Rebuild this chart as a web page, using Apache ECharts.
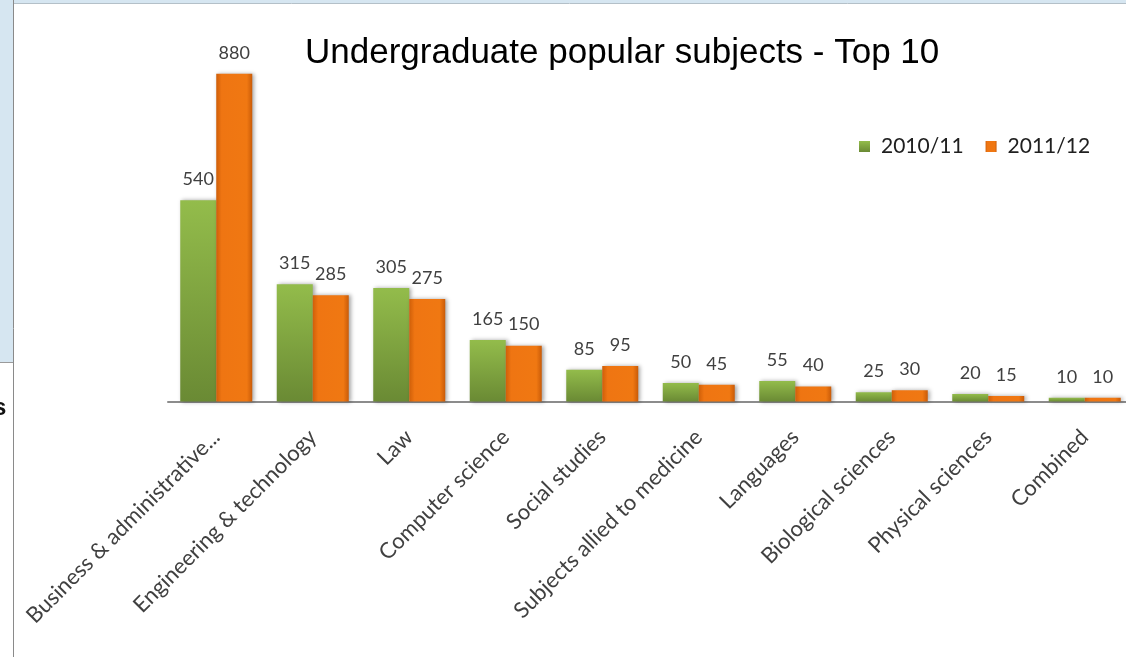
<!DOCTYPE html>
<html>
<head>
<meta charset="utf-8">
<title>Undergraduate popular subjects - Top 10</title>
<script src="https://cdn.jsdelivr.net/npm/echarts@6/dist/echarts.min.js"></script>
<style>
  html, body { margin: 0; padding: 0; background: #ffffff; }
  #chart { width: 1126px; height: 657px; }
</style>
</head>
<body>
<div id="chart"></div>
<script>
// Subjects, in ranking order
const categories = [
  'Business & administrative...',
  'Engineering & technology',
  'Law',
  'Computer science',
  'Social studies',
  'Subjects allied to medicine',
  'Languages',
  'Biological sciences',
  'Physical sciences',
  'Combined'
];
const seriesNames = ['2010/11', '2011/12'];
const values2010 = [540, 315, 305, 165, 85, 50, 55, 25, 20, 10];
const values2011 = [880, 285, 275, 150, 95, 45, 40, 30, 15, 10];

const LABEL_FONT = 'Lato, "Open Sans", sans-serif';

const greenFill = new echarts.graphic.LinearGradient(0, 0, 0, 1, [
  { offset: 0, color: '#93bc4b' },
  { offset: 1, color: '#6a8a34' }
]);
const orangeFill = new echarts.graphic.LinearGradient(0, 0, 1, 0, [
  { offset: 0, color: '#cf5f09' },
  { offset: 0.15, color: '#ef7512' },
  { offset: 0.85, color: '#f07812' },
  { offset: 1, color: '#c95b08' }
]);

function barSeries(name, data, fill, legendColor) {
  return {
    name: name,
    type: 'bar',
    data: data,
    barWidth: 36,
    barGap: '0%',
    color: legendColor,
    itemStyle: {
      color: fill,
      shadowBlur: 4,
      shadowOffsetX: 2,
      shadowOffsetY: 0,
      shadowColor: 'rgba(0,0,0,0.35)'
    },
    label: {
      show: true,
      position: 'top',
      distance: 12,
      fontFamily: LABEL_FONT,
      fontSize: 18,
      color: '#404040'
    },
    emphasis: { disabled: true }
  };
}

const chart = echarts.init(document.getElementById('chart'), null, { renderer: 'canvas' });

chart.setOption({
  animation: false,
  backgroundColor: '#ffffff',
  title: {
    text: 'Undergraduate popular subjects - Top 10',
    left: 305,
    top: 36,
    padding: 0,
    textStyle: {
      fontFamily: '"Liberation Sans", Arial, sans-serif',
      fontSize: 35,
      fontWeight: 'normal',
      color: '#000000'
    }
  },
  legend: {
    data: seriesNames,
    left: 859,
    top: 136,
    padding: 0,
    itemWidth: 11,
    itemHeight: 11,
    itemGap: 22,
    icon: 'rect',
    textStyle: {
      fontFamily: LABEL_FONT,
      fontSize: 21,
      color: '#202020',
      padding: [0, 0, 0, 6]
    }
  },
  grid: {
    left: 168,
    top: 29,
    width: 965,
    height: 372.5,
    containLabel: false,
    outerBoundsMode: 'none'
  },
  xAxis: {
    type: 'category',
    data: categories,
    axisLine: { show: true, lineStyle: { color: '#8c8c8c', width: 2 } },
    axisTick: { show: false },
    axisLabel: {
      interval: 0,
      rotate: 45,
      margin: 32,
      fontFamily: LABEL_FONT,
      fontSize: 22,
      color: '#404040',
      hideOverlap: false
    },
    splitLine: { show: false }
  },
  yAxis: {
    type: 'value',
    min: 0,
    max: 1000,
    show: false,
    splitLine: { show: false }
  },
  series: [
    barSeries(seriesNames[0], values2010, greenFill, '#7fa63e'),
    barSeries(seriesNames[1], values2011, orangeFill, '#ec7412')
  ],
  graphic: [
    // sheet strip along the top
    { type: 'rect', shape: { x: 0, y: 0, width: 1126, height: 3 }, style: { fill: '#d6e6f1' }, silent: true },
    { type: 'line', shape: { x1: 13, y1: 3.5, x2: 1126, y2: 3.5 }, style: { stroke: '#b4c0c8', lineWidth: 1 }, silent: true },
    // side panel on the left
    { type: 'rect', shape: { x: 0, y: 0, width: 13, height: 362 }, style: { fill: '#d6e6f1' }, silent: true },
    { type: 'line', shape: { x1: 0, y1: 362.5, x2: 13, y2: 362.5 }, style: { stroke: '#9a9a9a', lineWidth: 1 }, silent: true },
    { type: 'line', shape: { x1: 13.5, y1: 0, x2: 13.5, y2: 657 }, style: { stroke: '#8a8a8a', lineWidth: 1 }, silent: true },
    {
      type: 'text', left: -7, top: 396, silent: true,
      style: { text: 's', fontFamily: '"Liberation Sans", Arial, sans-serif', fontSize: 24, fontWeight: 'bold', fill: '#111111' }
    }
  ]
});
</script>
</body>
</html>
